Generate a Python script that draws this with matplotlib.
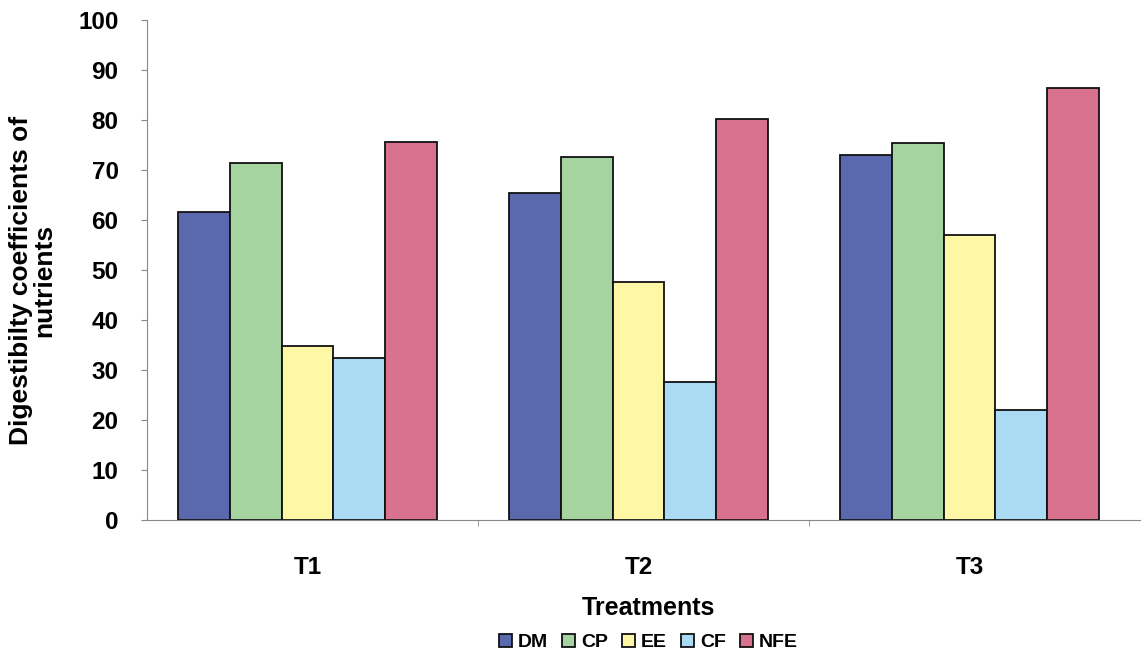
import matplotlib.pyplot as plt
import numpy as np

# data
treatments = ["T1", "T2", "T3"]
nutrients = ["DM", "CP", "EE", "CF", "NFE"]
dm = [61.5, 65.4, 72.9]
cp = [71.4, 72.5, 75.3]
ee = [34.9, 47.5, 56.9]
cf = [32.4, 27.6, 22.0]
nfe = [75.5, 80.2, 86.4]

colors = ["#5a69ae", "#a5d4a1", "#fdf7a6", "#aadbf3", "#d8728f"]

plt.rcParams['font.family'] = ['Liberation Sans', 'DejaVu Sans']
plt.rcParams['font.weight'] = 'bold'

fig = plt.figure(figsize=(11.44, 6.65), dpi=100)
ax = fig.add_axes([0.1285, 0.218, 0.868, 0.752])

x = np.arange(len(treatments))
w = 0.156
series = [dm, cp, ee, cf, nfe]
for i, (vals, name) in enumerate(zip(series, nutrients)):
    ax.bar(x + (i - 2) * w - 0.015, vals, w, color=colors[i], edgecolor="#111111",
           linewidth=1.3, label=name)

ax.set_xlim(-0.5, 2.5)
ax.set_ylim(0, 100)
ax.set_yticks(range(0, 101, 10))
ax.set_xticks(x - 0.015)
ax.set_xticklabels(treatments, fontsize=17.5, fontweight='bold')
ax.set_xticks([0.5, 1.5], minor=True)
ax.tick_params(axis='x', which='major', length=0, pad=26)
ax.tick_params(axis='x', which='minor', length=4.5, color="#888888")
ax.tick_params(axis='y', length=4.5, color="#888888", labelsize=17.5, pad=16)
for lab in ax.get_yticklabels():
    lab.set_fontweight('bold')

ax.spines['top'].set_visible(False)
ax.spines['right'].set_visible(False)
ax.spines['left'].set_color("#888888")
ax.spines['bottom'].set_color("#888888")

ax.set_ylabel("Digestibilty coefficients of\nnutrients", fontsize=19,
              fontweight='bold', linespacing=1.0)
ax.yaxis.set_label_coords(-0.091, 0.48)
ax.set_xlabel("Treatments", fontsize=18, fontweight='bold')
ax.xaxis.set_label_coords(0.505, -0.152)

leg = ax.legend(loc='center', bbox_to_anchor=(0.505, -0.245), ncol=5,
                frameon=False, fontsize=14, handlelength=0.7, handleheight=0.7,
                handletextpad=0.3, columnspacing=0.7)
for t in leg.get_texts():
    t.set_fontweight('bold')

fig.savefig("out.png", dpi=100)
